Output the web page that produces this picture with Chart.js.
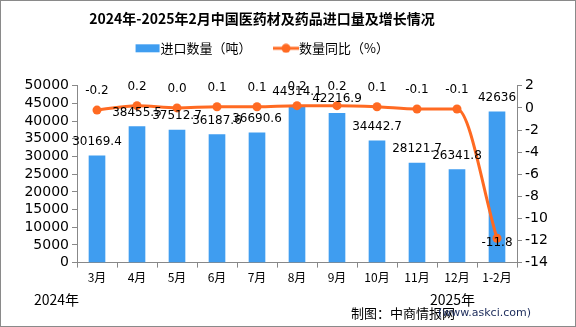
<!DOCTYPE html>
<html><head><meta charset="utf-8">
<script src="https://cdn.jsdelivr.net/npm/chart.js@4.4.1/dist/chart.umd.min.js"></script>
<style>html,body{margin:0;padding:0;background:#fff}canvas{display:block}</style>
</head><body><canvas id="c" width="576" height="327"></canvas>
<script>
const categories = ['3月','4月','5月','6月','7月','8月','9月','10月','11月','12月','1-2月'];
const importQty = [30169.4, 38455.5, 37512.7, 36187.6, 36690.6, 44314.1, 42216.9, 34442.7, 28121.7, 26341.8, 42636];
const qtyYoY = [-0.2, 0.2, 0.0, 0.1, 0.1, 0.2, 0.2, 0.1, -0.1, -0.1, -11.8];
const qtyLabels = ['30169.4','38455.5','37512.7','36187.6','36690.6','44314.1','42216.9','34442.7','28121.7','26341.8','42636'];
const yoyLabels = ['-0.2','0.2','0.0','0.1','0.1','0.2','0.2','0.1','-0.1','-0.1','-11.8'];

const BAR = '#3F9DF0', LINE = '#FF6A22', AX = '#888888';
const CJK = '"Noto Sans CJK SC","DejaVu Sans",sans-serif';
const NUM = '"DejaVu Sans","Noto Sans CJK SC",sans-serif';

function icon(type){
  const c = document.createElement('canvas'); c.width = 26; c.height = 10;
  const g = c.getContext('2d');
  if(type==='bar'){ g.fillStyle = BAR; g.fillRect(1,1,24,8); }
  else { g.strokeStyle = LINE; g.lineWidth = 3; g.beginPath(); g.moveTo(0,5); g.lineTo(26,5); g.stroke();
         g.fillStyle = LINE; g.beginPath(); g.arc(13,5,4.5,0,Math.PI*2); g.fill(); }
  return c;
}

const extras = {
  id:'extras',
  afterInit(chart){
    const lg = chart.legend;
    if(lg){ const f = lg.fit.bind(lg); lg.fit = function(){ f(); this.height += 21; }; }
  },
  afterLayout(chart){
    if(chart.titleBlock){ chart.titleBlock.right -= 52; chart.titleBlock.width -= 52; }
    if(chart.legend){ chart.legend.right -= 46; chart.legend.width -= 46; }
  },
  afterDatasetsDraw(chart){
    const ctx = chart.ctx;
    ctx.save();
    ctx.fillStyle = '#000'; ctx.font = '12px ' + NUM; ctx.textAlign='center'; ctx.textBaseline='middle';
    chart.getDatasetMeta(0).data.forEach((b,i)=>{ ctx.fillText(qtyLabels[i], b.x, b.y-14); });
    chart.getDatasetMeta(1).data.forEach((p,i)=>{
      const dy = qtyYoY[i] < -5 ? 5 : -19;
      ctx.fillText(yoyLabels[i], p.x, p.y+dy);
    });
    ctx.restore();
  },
  afterDraw(chart){
    const ctx = chart.ctx;
    ctx.save();
    ctx.strokeStyle = '#8a8a8a'; ctx.lineWidth = 1; ctx.strokeRect(0.5,0.5,575,326);
    ctx.fillStyle = '#000'; ctx.textBaseline='middle';
    ctx.font = '14px ' + CJK; ctx.textAlign='left';
    ctx.fillText('2024年', 34, 300);
    ctx.fillText('2025年', 430, 300);
    ctx.font = '13px ' + CJK;
    ctx.fillText('制图：中商情报网', 351, 313);
    ctx.font = '11px ' + NUM; ctx.fillStyle = '#1a2a5a';
    ctx.fillText('(www.askci.com)', 438, 313);
    ctx.restore();
  }
};

new Chart(document.getElementById('c'), {
  data:{
    labels: categories,
    datasets:[
      {type:'bar', label:'进口数量（吨）', data: importQty, backgroundColor: BAR, yAxisID:'y', barThickness:16, order:2},
      {type:'line', label:'数量同比（%）', data: qtyYoY, borderColor: LINE, backgroundColor: LINE, borderWidth:3,
       pointRadius:4.5, pointBackgroundColor: LINE, pointBorderWidth:0, cubicInterpolationMode:'monotone', yAxisID:'y1', order:1}
    ]
  },
  options:{
    responsive:false, animation:false,
    layout:{padding:{left:0,right:0,top:0,bottom:39}},
    plugins:{
      title:{display:true, text:'2024年-2025年2月中国医药材及药品进口量及增长情况', color:'#000',
        font:{family:CJK, size:14, weight:'bold'}, padding:{top:10,bottom:-13}},
      legend:{display:true, labels:{usePointStyle:true, color:'#000', font:{family:CJK,size:13}, padding:28,
        generateLabels(chart){
          return chart.data.datasets.map((d,i)=>({text:d.label, pointStyle: icon(i===0?'bar':'line'),
            fillStyle:'transparent', strokeStyle:'transparent', lineWidth:0, datasetIndex:i, fontColor:'#000'}));
        }}},
      tooltip:{enabled:false}
    },
    scales:{
      x:{offset:true, grid:{display:true, drawOnChartArea:false, offset:true, tickLength:5, color:AX},
         border:{color:AX}, ticks:{color:'#000', font:{family:CJK,size:12}, padding:3, maxRotation:0}},
      y:{position:'left', min:0, max:50000, grid:{drawOnChartArea:false, tickLength:5, color:AX}, border:{color:AX},
         ticks:{stepSize:5000, autoSkip:false, color:'#000', font:{family:NUM,size:14}, padding:3, callback:v=>String(v)},
         afterFit(s){ s.width = 77; }},
      y1:{position:'right', min:-14, max:2, grid:{drawOnChartArea:false, tickLength:5, color:AX}, border:{color:AX},
         ticks:{stepSize:2, autoSkip:false, color:'#000', font:{family:NUM,size:14}, padding:3, callback:v=>String(v)},
         afterFit(s){ s.width = 59; }}
    }
  },
  plugins:[extras]
});
</script></body></html>
